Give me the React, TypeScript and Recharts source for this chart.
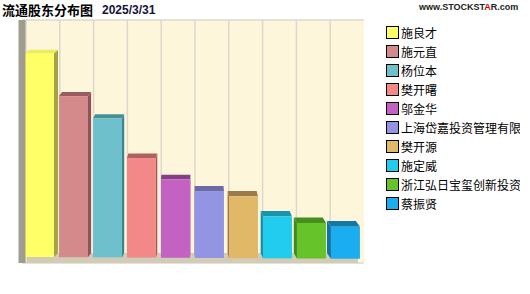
import * as React from "react";
import {
  Bar,
  CartesianGrid,
  ComposedChart,
  Legend,
  ReferenceArea,
  XAxis,
  YAxis,
} from "recharts";

// 流通股东 (top 10 float shareholders) and their holding share
const holders = [
  "施良才",
  "施元直",
  "杨位本",
  "樊开曙",
  "邬金华",
  "上海岱嘉投资管理有限公司",
  "樊开源",
  "施定威",
  "浙江弘日宝玺创新投资",
  "蔡振贤",
];
const holdingPct = [6.11, 4.84, 4.17, 2.99, 2.35, 2.01, 1.86, 1.26, 1.07, 0.96];
const gridTicks = [0, 1, 2, 3, 4, 5, 6, 7];

const frontColors = [
  "#FFFF66",
  "#D48A8A",
  "#6EC0CC",
  "#F28888",
  "#C462C4",
  "#9494E4",
  "#E0B868",
  "#22CCEE",
  "#66C42A",
  "#1AAEF0",
];
const sideColors = [
  "#A3A345",
  "#8E5458",
  "#3B8590",
  "#A85A5A",
  "#7C3A7E",
  "#62629A",
  "#937545",
  "#168CA4",
  "#3F8A1C",
  "#13739E",
];
const topColors = [
  "#EDED5C",
  "#9A5C60",
  "#44909A",
  "#B06262",
  "#843F86",
  "#6A6AA4",
  "#9A7C4A",
  "#1A94AC",
  "#448F1F",
  "#1478A6",
];

const chartData = holders.map((name, i) => ({ name, value: holdingPct[i] }));

const LEGEND_WIDTH = 134;
const VANISH_X = 192;
const SKEW = 0.027;

type ShapeProps = {
  x?: number;
  y?: number;
  width?: number;
  height?: number;
  index?: number;
};

// extruded bar: the library rect is the back face, the front face is pulled
// toward the viewer (down, and sideways away from the vanishing point)
function Bar3D({ x = 0, y = 0, width = 0, height = 0, index = 0 }: ShapeProps) {
  if (height <= 0) return null;
  const cx = x + width / 2;
  const dx = (VANISH_X - cx) * SKEW;
  const dy = 4 + ((cx - 44) / 297) * 1.7;
  const bottom = y + height;
  const fx = x - dx;
  const fy = y + dy;

  const top = `${x},${y} ${x + width},${y} ${fx + width},${fy} ${fx},${fy}`;
  const side =
    dx > 0
      ? `${x + width},${y} ${x + width},${bottom} ${fx + width},${bottom + dy} ${fx + width},${fy}`
      : `${x},${y} ${x},${bottom} ${fx},${bottom + dy} ${fx},${fy}`;

  return (
    <g>
      <polygon points={side} fill={sideColors[index]} />
      <polygon points={top} fill={topColors[index]} />
      <rect x={fx} y={fy} width={width} height={height} fill={frontColors[index]} />
    </g>
  );
}

function HolderLegend() {
  return (
    <div
      style={{
        width: LEGEND_WIDTH,
        overflow: "hidden",
        fontFamily: '"Noto Sans CJK SC", sans-serif',
        fontSize: 12,
        color: "#000",
      }}
    >
      {holders.map((name, i) => (
        <div
          key={name}
          style={{
            height: 19,
            display: "flex",
            alignItems: "center",
            whiteSpace: "nowrap",
          }}
        >
          <span
            style={{
              display: "inline-block",
              width: 11,
              height: 11,
              border: "1px solid #000",
              background: frontColors[i],
              marginRight: 2,
              flex: "none",
            }}
          />
          <span>{name}</span>
        </div>
      ))}
    </div>
  );
}

export default function App() {
  return (
    <div
      style={{
        position: "absolute",
        left: 0,
        top: 0,
        width: 530,
        height: 294,
        background: "#fff",
        overflow: "hidden",
      }}
    >
      <div
        style={{
          position: "absolute",
          left: 2,
          top: 1,
          fontFamily: '"Noto Sans CJK SC", sans-serif',
          fontWeight: 700,
          fontSize: 13,
          lineHeight: "18px",
          color: "#000",
          zIndex: 2,
        }}
      >
        流通股东分布图
      </div>
      <div
        style={{
          position: "absolute",
          left: 102,
          top: 3,
          fontFamily: '"Liberation Sans", Arial, sans-serif',
          fontWeight: 700,
          fontSize: 12,
          lineHeight: "14px",
          color: "#14143A",
          zIndex: 2,
        }}
      >
        2025/3/31
      </div>
      <div
        style={{
          position: "absolute",
          left: 419,
          top: 2,
          fontFamily: '"Liberation Sans", Arial, sans-serif',
          fontWeight: 700,
          fontSize: 9,
          lineHeight: "11px",
          color: "#222",
          zIndex: 2,
        }}
      >
        www.STOCKST<span style={{ color: "#D40000" }}>A</span>R.com
      </div>

      {/* the legend box width is added to the right margin by the chart */}
      <ComposedChart
        width={530}
        height={294}
        data={chartData}
        margin={{ top: 20, right: 166 - LEGEND_WIDTH, bottom: 31, left: 18 }}
      >
        <CartesianGrid
          fill="#FEF6DB"
          stroke="#DCD8CE"
          strokeWidth={1.5}
          verticalCoordinatesGenerator={({ offset }: any) =>
            Array.from({ length: 10 }, (_, i) => offset.left + 4 + (i * (offset.width - 4)) / 10)
          }
        />
        <XAxis dataKey="name" hide padding={{ left: 5, right: 6 }} />
        <YAxis
          width={4}
          domain={[-0.3, 7]}
          ticks={gridTicks}
          tick={false}
          tickSize={5}
          tickLine={{ stroke: "#D8D4C8" }}
          axisLine={{ stroke: "#A09C90", strokeWidth: 7 }}
          allowDataOverflow
        />
        <ReferenceArea y1={-0.3} y2={0} fill="#D2CBB6" fillOpacity={1} stroke="none" />
        <Bar
          dataKey="value"
          barSize={29}
          shape={(props: any) => <Bar3D {...props} />}
          isAnimationActive={false}
        />
        <Legend
          layout="vertical"
          verticalAlign="top"
          align="right"
          wrapperStyle={{ left: 386, top: 23, width: LEGEND_WIDTH }}
          content={() => <HolderLegend />}
        />
      </ComposedChart>
    </div>
  );
}
